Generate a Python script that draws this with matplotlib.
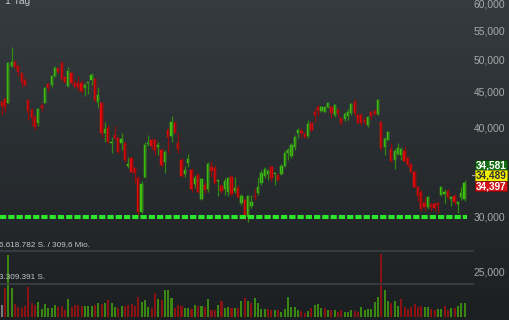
import numpy as np
import matplotlib
matplotlib.use("Agg")
import matplotlib.pyplot as plt
from matplotlib.patches import Rectangle
from matplotlib.lines import Line2D
import matplotlib.transforms as mtrans

plt.rcParams['font.family'] = ['Liberation Sans', 'DejaVu Sans']
plt.rcParams['lines.scale_dashes'] = False

# ---------------- data ----------------
opens = [43730, 44060, 43590, 49140, 49840, 49140, 47980, 46940, 43970, 42560,
         41550, 40830, 43260, 43590, 46330, 46180, 47560, 48770, 49680, 47360,
         46030, 47980, 46530, 46430, 46530, 45690, 46430, 46940, 47040, 43730,
         43500, 39440, 40090, 38170, 39220, 38800, 38240, 38170, 35440, 36340,
         35170, 34050, 30530, 34160, 38080, 38580, 38580, 37670, 37340, 35950,
         39870, 39090, 40830, 38170, 36140, 34530, 35750, 34980, 33420, 34420,
         31780, 33310, 32850, 35290, 35170, 33700, 33200, 32850, 32590, 34230,
         32700, 32950, 31440, 31710, 29970, 31070, 32130, 32430, 33490, 34300,
         34530, 35290, 34530, 34420, 34530, 35440, 37010, 36620, 37750, 39520,
         39780, 39350, 39050, 40750, 42320, 42940, 42460, 42320, 42940, 42940,
         41870, 42560, 41420, 41280, 41690, 42100, 43730, 41870, 41870, 41190,
         40520, 42320, 42460, 42010, 40960, 37750, 38580, 37420, 36140, 36860,
         36740, 37260, 36340, 35670, 34790, 33130, 32590, 31380, 30970, 31200,
         31300, 31440, 32230, 32380, 32660, 31850, 32130, 31300, 32060, 31850]
closes = [43160, 43030, 49570, 49840, 48930, 48240, 46690, 46180, 42460, 41420,
          40220, 42660, 42800, 45690, 45690, 47560, 48770, 48240, 47040, 46690,
          48350, 46530, 45930, 45830, 45290, 46180, 46690, 47710, 43970, 44690,
          39440, 39960, 38370, 38370, 38800, 37140, 38670, 36140, 35670, 34790,
          34680, 30530, 33420, 37960, 38250, 37830, 37340, 37960, 35560, 37140,
          39010, 40960, 39520, 37420, 34300, 34980, 36220, 32850, 34050, 32590,
          33930, 32770, 35670, 34900, 33560, 33810, 32700, 33780, 34050, 32340,
          32950, 32060, 32130, 30100, 32130, 31480, 31990, 33130, 34600, 35060,
          34900, 34050, 34680, 33860, 35440, 37010, 37340, 37960, 39010, 39870,
          39440, 39000, 40600, 39900, 41870, 42460, 43030, 42940, 43590, 42100,
          43260, 42190, 40830, 42010, 42320, 43400, 42100, 40830, 40830, 40960,
          41640, 41730, 42010, 43970, 37550, 38670, 39650, 36060, 37260, 37550,
          37420, 36060, 35560, 34790, 33130, 32130, 30780, 30970, 32060, 31030,
          30870, 31200, 33130, 32550, 31990, 31990, 31540, 31540, 32430, 33560]
highs = [43970, 44210, 49840, 52340, 50110, 49300, 48080, 47200, 44070, 42800,
         41730, 42800, 43590, 45930, 46530, 47710, 49140, 49040, 49950, 47560,
         48930, 48080, 46940, 47560, 46940, 46430, 46840, 47980, 47200, 45930,
         43730, 40960, 40520, 39000, 40390, 39000, 39520, 38370, 36540, 36540,
         35370, 34300, 33780, 38370, 39220, 38800, 38580, 38370, 37550, 37340,
         40130, 41730, 41100, 39440, 36340, 35440, 36860, 35170, 34420, 34600,
         34050, 33670, 35950, 36060, 35560, 33820, 33420, 34050, 34160, 34420,
         34160, 33310, 32340, 31890, 32230, 32230, 32850, 34160, 34980, 35370,
         35060, 35560, 34790, 34530, 35670, 37340, 37550, 38170, 39220, 40090,
         40090, 39650, 41190, 40960, 42660, 43260, 43120, 43030, 43730, 43120,
         43400, 42800, 41550, 42320, 42660, 43590, 44070, 42100, 42100, 41640,
         41730, 42460, 42630, 44070, 41100, 39000, 39780, 38170, 37420, 38170,
         37750, 37830, 36540, 35830, 34900, 33200, 32770, 32060, 32130, 31540,
         31540, 31540, 33200, 32930, 32930, 32060, 32340, 31650, 33060, 33860]
lows = [41870, 42320, 43500, 49040, 48770, 47560, 45930, 46030, 41190, 40390,
        39870, 40390, 42460, 43500, 45330, 45930, 47360, 47980, 46840, 46530,
        45930, 46330, 45830, 45330, 45040, 44600, 44780, 46180, 43730, 42840,
        39000, 38370, 38170, 37010, 38580, 36950, 37340, 35950, 35170, 34600,
        33490, 30130, 30430, 34050, 37830, 37340, 36740, 36740, 35370, 34600,
        36950, 38370, 39440, 37010, 34160, 34160, 35290, 32590, 32950, 32420,
        31710, 32420, 32590, 34160, 33420, 32130, 32420, 32230, 32130, 32130,
        32420, 31920, 31200, 29700, 29540, 30870, 31710, 32230, 33310, 34050,
        33860, 33780, 33310, 33780, 34420, 35370, 36140, 36340, 37340, 38800,
        39000, 38800, 38900, 39650, 40960, 41730, 42320, 42230, 42800, 41420,
        41550, 41640, 40520, 41100, 41190, 41870, 41730, 40750, 40520, 40520,
        40220, 41280, 41800, 41870, 37340, 36740, 38580, 35950, 35060, 36740,
        36140, 35950, 35290, 34680, 32950, 31650, 30640, 30640, 30780, 30640,
        30640, 30430, 32130, 31380, 31780, 31100, 31200, 30370, 31710, 31650]
volumes_mio = [1.20, 2.87, 6.21, 2.87, 1.30, 0.97, 0.87, 1.10, 3.04, 1.37,
               1.20, 1.54, 0.77, 1.30, 0.87, 0.87, 1.20, 0.97, 1.10, 0.70,
               1.77, 0.97, 1.20, 1.20, 1.10, 1.10, 1.10, 1.10, 1.20, 1.37,
               1.30, 1.44, 1.70, 1.44, 0.97, 0.87, 1.10, 1.10, 1.20, 1.30,
               1.10, 1.97, 1.54, 1.70, 0.97, 0.87, 2.37, 1.77, 1.70, 2.71,
               2.71, 1.87, 0.87, 1.20, 1.10, 0.87, 0.87, 0.77, 1.20, 1.10,
               1.10, 0.97, 1.77, 0.70, 0.70, 1.20, 1.64, 0.87, 0.97, 0.87,
               0.87, 0.87, 1.64, 1.87, 1.64, 1.37, 1.94, 1.37, 0.77, 0.77,
               0.77, 0.70, 0.70, 0.70, 0.53, 0.77, 2.04, 0.97, 0.97, 0.70,
               0.63, 0.43, 0.60, 0.87, 1.20, 1.30, 0.87, 0.87, 0.70, 0.70,
               0.70, 0.53, 0.70, 0.53, 0.53, 0.70, 0.63, 0.53, 1.04, 0.70,
               0.77, 0.77, 1.54, 1.97, 6.31, 2.71, 1.64, 1.44, 1.60, 1.10,
               1.77, 0.97, 0.77, 0.97, 1.30, 0.97, 1.10, 0.97, 0.97, 0.84,
               0.70, 0.84, 0.84, 1.10, 0.70, 0.87, 0.87, 1.10, 1.37, 1.37]

price_ticks = [25000, 30000, 40000, 45000, 50000, 55000, 60000]
price_tick_labels = ["25,000", "30,000", "40,000", "45,000", "50,000", "55,000", "60,000"]
support_level = 30000
vol_levels_mio = [3.309391, 6.618782]
vol_level_labels = ["3.309.391 S.", "6.618.782 S. / 309,6 Mio."]
quote_values = ["34,581", "34,489", "34,397"]   # ask / last / bid
period_label = "1 Tag"

# ---------------- figure ----------------
W, H = 510, 320
fig = plt.figure(figsize=(W / 100, H / 100), dpi=100)
pix = mtrans.Affine2D().scale(1 / W, -1 / H).translate(0, 1) + fig.transFigure

# background gradient
bg = fig.add_axes([0, 0, 1, 1], zorder=-10)
top = np.array([53, 59, 63]) / 255
bot = np.array([28, 31, 34]) / 255
t = np.linspace(0, 1, H)[:, None]
grad = top * (1 - t) + bot * t
bg.imshow(np.repeat(grad[:, None, :], 2, axis=1), aspect='auto', extent=[0, 1, 0, 1],
          interpolation='bilinear')
bg.axis('off')

AX_W = 475
n = len(opens)
x = np.arange(n)
xlim = (-1.7 / 3.33, (AX_W - 1.7) / 3.33)

# volume axes
vax = fig.add_axes([0, 0, AX_W / W, 1], zorder=1)
vax.set_facecolor('none')
vax.set_xlim(*xlim)
vax.set_ylim(-0.30, 31.79)
vax.axis('off')
for lv in vol_levels_mio:
    vax.axhline(lv, xmin=0, xmax=473 / AX_W, color='#393e41', lw=1.3)
cl = np.array(closes)
vcols = ['#7a7a7a'] + ['#3a8712' if cl[i] >= cl[i - 1] else '#8a1212' for i in range(1, n)]
vax.bar(x, volumes_mio, width=0.62, color=vcols, linewidth=0)

# price axes
ax = fig.add_axes([0, 0, AX_W / W, 1], zorder=2)
ax.set_facecolor('none')
ax.set_yscale('log')
ax.set_ylim(21430, 60960)
ax.set_xlim(*xlim)
ax.axis('off')

o = np.array(opens); c = np.array(closes)
up = c >= o
body_col = np.where(up, '#42c212', '#e00b0b')
wick_col = np.where(up, '#2f8a12', '#9a0a0a')
ax.vlines(x, lows, highs, colors=wick_col, lw=0.9)
bottoms = np.minimum(o, c)
tops = np.maximum(o, c)
ax.bar(x, tops - bottoms, bottom=bottoms, width=0.68, color=body_col,
       edgecolor=body_col, linewidth=0.35)

ax.plot([-0.55, n - 0.4], [support_level, support_level], color='#2be62b', lw=2.9,
        dashes=(4.5, 1.45), dash_capstyle='butt', solid_capstyle='butt')

# price tick labels
bt = mtrans.blended_transform_factory(fig.transFigure, ax.transData)
for p, lab in zip(price_ticks, price_tick_labels):
    fig.text(505 / W, p, lab, transform=bt, ha='right', va='center',
             fontsize=7.4, color='#a6aaac')

# quote boxes
box_style = [('#176d17', '#0c3f0c', 'white'),
             ('#f0f000', '#9a9a00', '#333333'),
             ('#d4141c', '#7a0a0a', 'white')]
box_tops = [160, 170.3, 180.8]
for (fc, ec, tc), yt, val in zip(box_style, box_tops, quote_values):
    fig.add_artist(Rectangle((475, yt), 32, 10.3, transform=pix, facecolor=fc,
                             edgecolor=ec, lw=0.6))
    fig.text(491, yt + 5.4, val, transform=pix, ha='center', va='center',
             fontsize=7.2, color=tc, fontweight='bold')
fig.add_artist(Line2D([472.5, 475], [175, 175], transform=pix, color='#9a9a9a', lw=0.9))

# volume level labels
vt = mtrans.blended_transform_factory(fig.transFigure, vax.transData)
for lv, lab in zip(vol_levels_mio, vol_level_labels):
    fig.text(-1.5 / W, lv + 0.28, lab, transform=vt, ha='left', va='bottom',
             fontsize=5.9, color='#c2c6c8')

fig.text(5 / W, 1 - 4 / H, period_label, ha='left', va='baseline', fontsize=7.5,
         color='#c2c6c8')

fig.savefig('out.png', dpi=100)
